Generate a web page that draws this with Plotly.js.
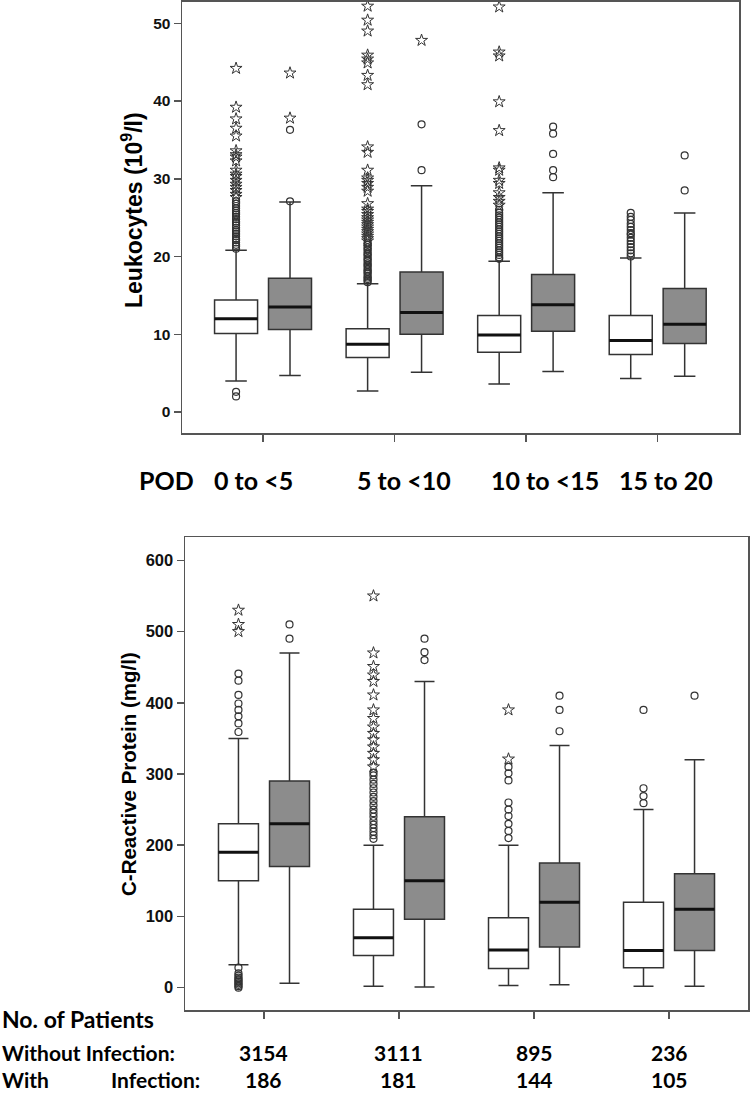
<!DOCTYPE html>
<html>
<head>
<meta charset="utf-8">
<script src="https://cdn.plot.ly/plotly-3.0.1.min.js"></script>
<style>
    html, body { margin: 0; padding: 0; background: #fff; }
    #grafico { width: 750px; height: 1093px; }
</style>
</head>
<body>
<div id="grafico"></div>
<script>
// Categorias (dia pós-operatório)
const categorias = ['0 to <5', '5 to <10', '10 to <15', '15 to 20'];
const catIdx = [0, 1, 2, 3];

// Número de pacientes
const nSemInfeccao = [3154, 3111, 895, 236];
const nComInfeccao = [186, 181, 144, 105];

// Leucócitos - sem infecção (caixas brancas)
const leuSemQ1 = [10.1, 7.0, 7.7, 7.4];
const leuSemMed = [12.0, 8.7, 9.9, 9.2];
const leuSemQ3 = [14.4, 10.7, 12.4, 12.4];
const leuSemMin = [4.0, 2.7, 3.6, 4.3];
const leuSemMax = [20.8, 16.5, 19.4, 19.8];
const leuSemCirculos = [
    [2.0, 2.6, 21.0, 21.3, 21.5, 21.8, 22.1, 22.3, 22.6, 22.9, 23.2, 23.4, 23.7, 24.0, 24.3, 24.5, 24.8, 25.1, 25.4, 25.6, 25.9, 26.2, 26.5, 26.8, 27.1],
    [16.7, 16.9, 17.1, 17.3, 17.5, 17.8, 18.0, 18.2, 18.4, 18.7, 18.9, 19.1, 19.4, 19.6, 19.8, 20.1, 20.3, 20.5, 20.8, 21.0, 21.2, 21.5, 21.7],
    [19.7, 19.9, 20.2, 20.5, 20.8, 21.1, 21.4, 21.7, 22.0, 22.3, 22.6, 22.9, 23.2, 23.5, 23.8, 24.1, 24.4, 24.7, 25.0, 25.3, 25.6, 26.0],
    [20.0, 20.4, 20.8, 21.2, 21.6, 22.0, 22.4, 22.8, 23.0, 23.4, 23.8, 24.2, 24.7, 25.1, 25.6]
];
const leuSemEstrelas = [
    [27.6, 28.0, 28.5, 28.9, 29.3, 29.8, 30.3, 30.6, 31.1, 32.3, 32.8, 33.1, 33.6, 35.5, 36.5, 37.7, 39.2, 44.2],
    [22.0, 22.3, 22.6, 22.9, 23.2, 23.5, 23.8, 24.1, 24.4, 24.7, 25.0, 25.4, 25.8, 26.1, 26.8, 28.4, 28.9, 29.4, 29.8, 30.1, 31.1, 33.4, 34.1, 42.1, 43.3, 44.9, 45.4, 45.9, 49.0, 50.4, 52.2],
    [26.6, 27.1, 27.6, 28.2, 29.4, 29.8, 31.1, 31.4, 36.2, 39.9, 45.8, 46.3, 52.1],
    []
];

// Leucócitos - com infecção (caixas cinzas)
const leuComQ1 = [10.6, 10.0, 10.4, 8.8];
const leuComMed = [13.5, 12.8, 13.8, 11.3];
const leuComQ3 = [17.2, 18.0, 17.7, 15.9];
const leuComMin = [4.7, 5.1, 5.2, 4.6];
const leuComMax = [27.0, 29.1, 28.2, 25.6];
const leuComCirculos = [[27.1, 36.3], [31.1, 37.0], [30.2, 31.1, 33.2, 35.8, 36.7], [28.5, 33.0]];
const leuComEstrelas = [[37.8, 43.6], [47.8], [], []];

// PCR - sem infecção
const pcrSemQ1 = [150, 45, 27, 28];
const pcrSemMed = [190, 70, 53, 52];
const pcrSemQ3 = [230, 110, 98, 120];
const pcrSemMin = [32, 2, 3, 2];
const pcrSemMax = [350, 200, 200, 250];
const pcrSemCirculos = [
    [0, 2, 4, 6, 8, 10, 12, 14, 17, 20, 28, 359, 371, 381, 390, 399, 411, 431, 441],
    [209, 214, 219, 224, 229, 234, 240, 245, 250, 256, 262, 268, 274, 280, 286, 292, 298, 302],
    [210, 220, 230, 241, 250, 260, 291, 301, 310],
    [259, 269, 280, 390]
];
const pcrSemEstrelas = [
    [500, 510, 530],
    [310, 320, 329, 338, 348, 357, 366, 378, 390, 411, 430, 439, 451, 470, 550],
    [321, 390],
    []
];

// PCR - com infecção
const pcrComQ1 = [170, 96, 57, 52];
const pcrComMed = [230, 150, 120, 110];
const pcrComQ3 = [290, 240, 175, 160];
const pcrComMin = [6, 1, 4, 2];
const pcrComMax = [470, 430, 340, 320];
const pcrComCirculos = [[490, 510], [460, 471, 490], [360, 390, 410], [410]];
const pcrComEstrelas = [[], [], [], []];

const CINZA = '#8c8c8c';
const LINHA = '#333';

// Caixa com estatísticas pré-calculadas
function caixa(desloc, larg, q1, med, q3, min, max, fill, xa, ya) {
    return {
        type: 'box',
        x: catIdx.map(i => i + desloc),
        q1: q1, median: med, q3: q3,
        lowerfence: min, upperfence: max,
        width: larg,
        whiskerwidth: 0.5,
        fillcolor: fill,
        line: { color: LINHA, width: 1.5 },
        boxpoints: false,
        xaxis: xa, yaxis: ya,
        hoverinfo: 'skip',
        showlegend: false
    };
}

// Linha da mediana mais grossa
function mediana(desloc, larg, med, xa, ya) {
    const xs = [], ys = [];
    med.forEach((m, i) => {
        xs.push(i + desloc - larg / 2, i + desloc + larg / 2, null);
        ys.push(m, m, null);
    });
    return {
        type: 'scatter', mode: 'lines', x: xs, y: ys,
        line: { color: '#111', width: 3 },
        xaxis: xa, yaxis: ya, hoverinfo: 'skip', showlegend: false
    };
}

// Pontos atípicos
function pontos(desloc, lista, simbolo, xa, ya) {
    const xs = [], ys = [];
    lista.forEach((vals, i) => vals.forEach(v => { xs.push(i + desloc); ys.push(v); }));
    const estrela = simbolo === 'star-open';
    return {
        type: 'scatter', mode: 'markers', x: xs, y: ys,
        marker: {
            symbol: simbolo,
            size: estrela ? 9 : 7,
            color: '#333',
            line: { color: '#333', width: estrela ? 1 : 1.2 }
        },
        xaxis: xa, yaxis: ya, hoverinfo: 'skip', showlegend: false
    };
}

const dTop = 0.205, wTop = 0.327;
const dBot = 0.189, wBot = 0.296;

const traces = [
    caixa(-dTop, wTop, leuSemQ1, leuSemMed, leuSemQ3, leuSemMin, leuSemMax, '#fff', 'x', 'y'),
    caixa(dTop, wTop, leuComQ1, leuComMed, leuComQ3, leuComMin, leuComMax, CINZA, 'x', 'y'),
    mediana(-dTop, wTop, leuSemMed, 'x', 'y'),
    mediana(dTop, wTop, leuComMed, 'x', 'y'),
    pontos(-dTop, leuSemCirculos, 'circle-open', 'x', 'y'),
    pontos(-dTop, leuSemEstrelas, 'star-open', 'x', 'y'),
    pontos(dTop, leuComCirculos, 'circle-open', 'x', 'y'),
    pontos(dTop, leuComEstrelas, 'star-open', 'x', 'y'),

    caixa(-dBot, wBot, pcrSemQ1, pcrSemMed, pcrSemQ3, pcrSemMin, pcrSemMax, '#fff', 'x2', 'y2'),
    caixa(dBot, wBot, pcrComQ1, pcrComMed, pcrComQ3, pcrComMin, pcrComMax, CINZA, 'x2', 'y2'),
    mediana(-dBot, wBot, pcrSemMed, 'x2', 'y2'),
    mediana(dBot, wBot, pcrComMed, 'x2', 'y2'),
    pontos(-dBot, pcrSemCirculos, 'circle-open', 'x2', 'y2'),
    pontos(-dBot, pcrSemEstrelas, 'star-open', 'x2', 'y2'),
    pontos(dBot, pcrComCirculos, 'circle-open', 'x2', 'y2'),
    pontos(dBot, pcrComEstrelas, 'star-open', 'x2', 'y2')
];

const eixoX = {
    tickvals: catIdx, ticks: 'outside', ticklen: 7, tickwidth: 1.5, tickcolor: '#555',
    showticklabels: false, showline: true, mirror: true, linecolor: '#555', linewidth: 1.5,
    showgrid: false, zeroline: false, fixedrange: true
};
const eixoY = {
    ticks: 'outside', ticklen: 7, tickwidth: 1.5, tickcolor: '#555',
    showline: true, mirror: true, linecolor: '#555', linewidth: 1.5,
    showgrid: false, zeroline: false
};

const H = 1093, W = 750;
const fonteRot = { family: 'Lato, Open Sans, sans-serif', size: 25, color: '#000', weight: 'bold' };
const fonteTab = { family: 'Lato, Open Sans, sans-serif', size: 21, color: '#000', weight: 'bold' };
const fonteArial = 'Liberation Sans, Arial, sans-serif';

const annotations = [
    { text: 'Leukocytes (10<sup>9</sup>/l)', textangle: -90,
      font: { family: fonteArial, size: 23, color: '#000', weight: 'bold' },
      xref: 'paper', yref: 'paper', x: 132 / W, y: 1 - 210 / H, xanchor: 'center', yanchor: 'middle', showarrow: false },
    { text: 'C-Reactive Protein (mg/l)', textangle: -90,
      font: { family: fonteArial, size: 20.5, color: '#000', weight: 'bold' },
      xref: 'paper', yref: 'paper', x: 128 / W, y: 1 - 774 / H, xanchor: 'center', yanchor: 'middle', showarrow: false },
    { text: 'POD', font: fonteRot, xref: 'paper', yref: 'paper', x: 137 / W, y: 1 - 480 / H,
      xanchor: 'left', yanchor: 'middle', showarrow: false },
    { text: 'No. of Patients', font: Object.assign({}, fonteTab, { size: 23 }), xref: 'paper', yref: 'paper',
      x: 0, y: 1 - 1019 / H, xanchor: 'left', yanchor: 'middle', showarrow: false },
    { text: 'Without Infection:', font: fonteTab, xref: 'paper', yref: 'paper',
      x: 0, y: 1 - 1052 / H, xanchor: 'left', yanchor: 'middle', showarrow: false },
    { text: 'With', font: fonteTab, xref: 'paper', yref: 'paper',
      x: 0, y: 1 - 1079 / H, xanchor: 'left', yanchor: 'middle', showarrow: false },
    { text: 'Infection:', font: fonteTab, xref: 'paper', yref: 'paper',
      x: 202 / W, y: 1 - 1079 / H, xanchor: 'right', yanchor: 'middle', showarrow: false }
];

// Rótulos das categorias (posição horizontal à esquerda, em px)
const inicioRotulos = [212, 355, 489, 617];
categorias.forEach((c, i) => {
    annotations.push({
        text: c.replace('<', '&lt;'), font: fonteRot, xref: 'paper', yref: 'paper',
        x: inicioRotulos[i] / W, y: 1 - 480 / H, xanchor: 'left', yanchor: 'middle', showarrow: false
    });
});

// Números de pacientes
catIdx.forEach(i => {
    annotations.push({ text: String(nSemInfeccao[i]), font: fonteTab, xref: 'x2', yref: 'paper',
        x: i, y: 1 - 1052 / H, xanchor: 'center', yanchor: 'middle', showarrow: false });
    annotations.push({ text: String(nComInfeccao[i]), font: fonteTab, xref: 'x2', yref: 'paper',
        x: i, y: 1 - 1079 / H, xanchor: 'center', yanchor: 'middle', showarrow: false });
});

const layout = {
    width: W, height: H,
    margin: { l: 0, r: 0, t: 0, b: 0 },
    paper_bgcolor: '#fff', plot_bgcolor: '#fff',
    showlegend: false,
    boxmode: 'overlay',
    xaxis: Object.assign({}, eixoX, { domain: [182 / W, 739 / W], range: [-0.616, 3.618], anchor: 'y' }),
    yaxis: Object.assign({}, eixoY, { domain: [1 - 433 / H, 1 - 1.5 / H], range: [-2.7, 52.8],
        tickvals: [0, 10, 20, 30, 40, 50], anchor: 'x',
        tickfont: { family: fonteArial, size: 15.5, color: '#111', weight: 'bold' } }),
    xaxis2: Object.assign({}, eixoX, { domain: [185 / W, 748 / W], range: [-0.585, 3.585], anchor: 'y2' }),
    yaxis2: Object.assign({}, eixoY, { domain: [1 - 1010 / H, 1 - 537 / H], range: [-31.4, 632.8],
        tickvals: [0, 100, 200, 300, 400, 500, 600], anchor: 'x2',
        tickfont: { family: fonteArial, size: 16.5, color: '#111', weight: 'bold' } }),
    annotations: annotations
};

Plotly.newPlot('grafico', traces, layout, { displayModeBar: false, staticPlot: true });
</script>
</body>
</html>
